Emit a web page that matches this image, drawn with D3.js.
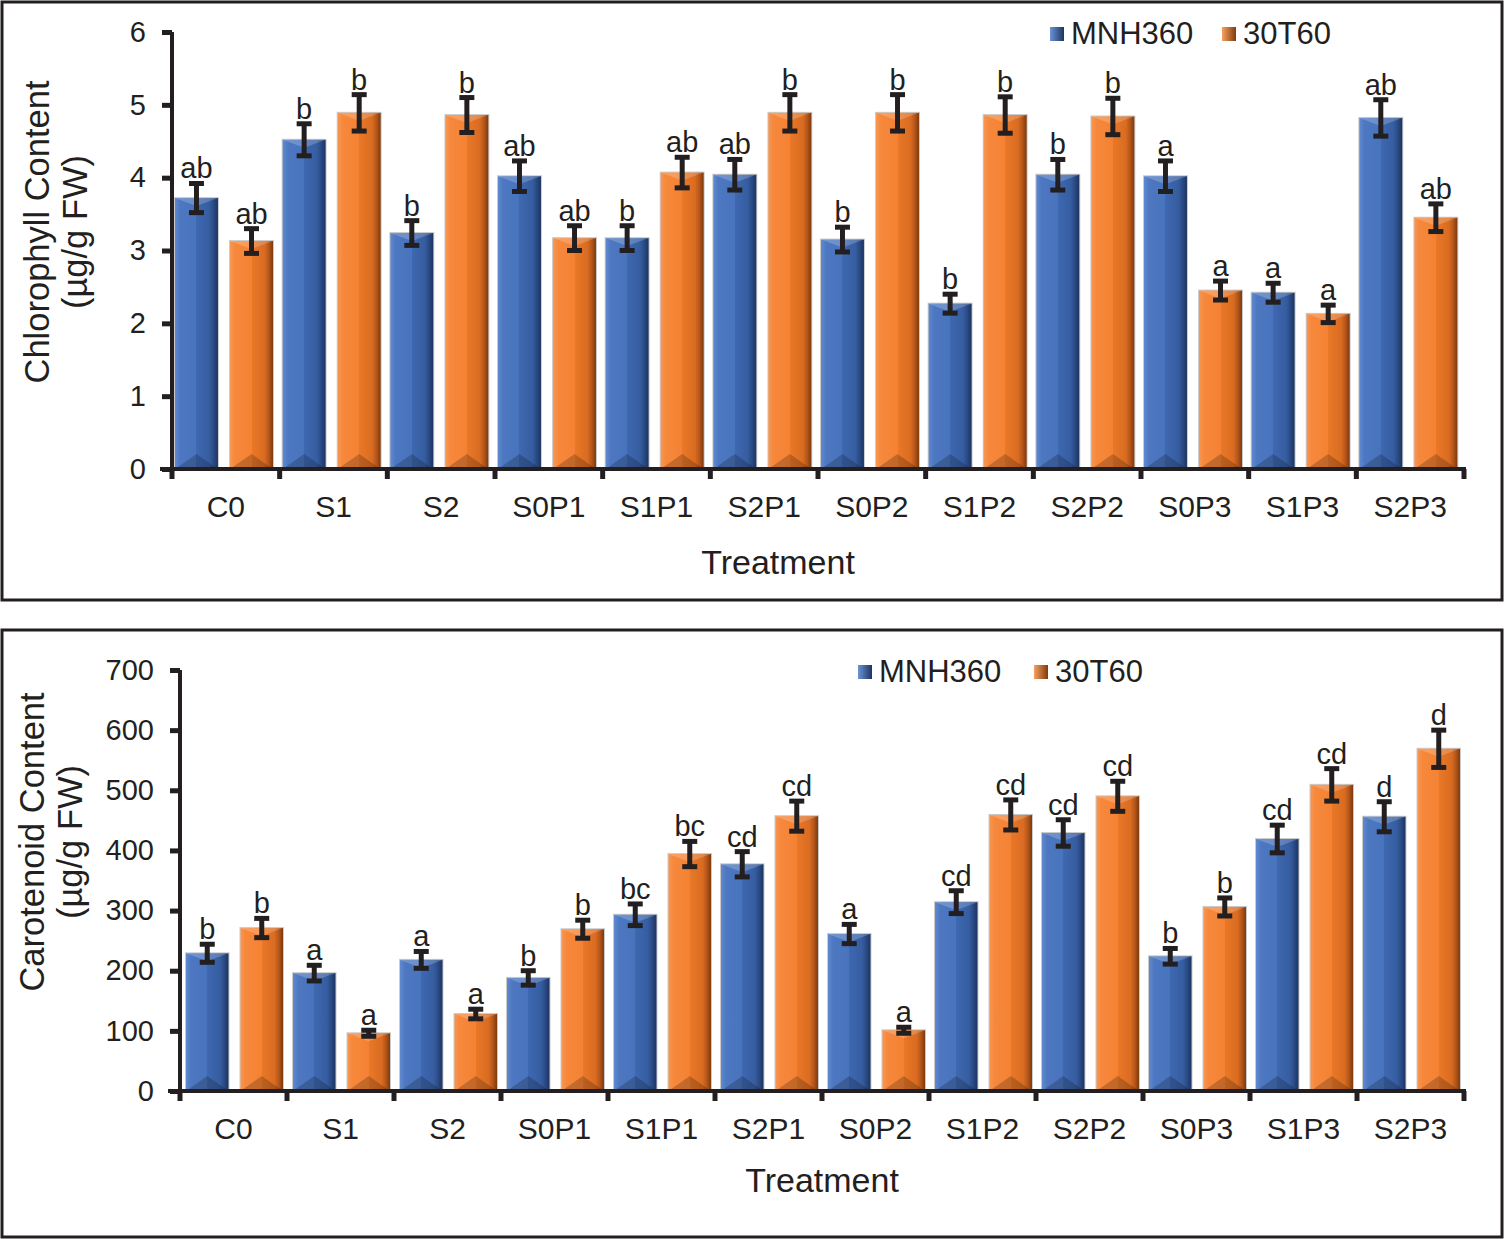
<!DOCTYPE html>
<html><head><meta charset="utf-8">
<script src="https://cdn.jsdelivr.net/npm/d3@7"></script>
<style>body{margin:0;background:#fff}svg{display:block}text{font-family:"Liberation Sans",Arial,sans-serif;fill:#231f20}</style>
</head><body><svg id="c" width="1504" height="1239"></svg>
<script>
const categories=["C0","S1","S2","S0P1","S1P1","S2P1","S0P2","S1P2","S2P2","S0P3","S1P3","S2P3"];
const seriesNames=["MNH360","30T60"];
// Chlorophyll
const chlMNH=[3.72,4.52,3.24,4.02,3.17,4.04,3.15,2.27,4.04,4.02,2.42,4.82];
const chl30T=[3.13,4.89,4.86,3.17,4.07,4.89,4.89,4.86,4.84,2.45,2.13,3.45];
const chlErrMNH=[0.2,0.22,0.17,0.21,0.17,0.21,0.17,0.13,0.21,0.21,0.13,0.25];
const chlErr30T=[0.17,0.25,0.24,0.17,0.21,0.25,0.25,0.25,0.25,0.13,0.12,0.19];
const chlLetMNH=["ab","b","b","ab","b","ab","b","b","b","a","a","ab"];
const chlLet30T=["ab","b","b","ab","ab","b","b","b","b","a","a","ab"];
const chlTicks=[0,1,2,3,4,5,6];
// Carotenoid
const carMNH=[229,196,218,188,293,377,261,314,429,224,419,456];
const car30T=[271,96,128,269,394,457,101,459,490,306,509,569];
const carErrMNH=[15,13,14,12,18,21,16,19,22,13,23,25];
const carErr30T=[16,5,8,15,21,25,5,25,25,15,27,31];
const carLetMNH=["b","a","a","b","bc","cd","a","cd","cd","b","cd","d"];
const carLet30T=["b","a","a","b","bc","cd","a","cd","cd","b","cd","d"];
const carTicks=[0,100,200,300,400,500,600,700];

const svg=d3.select("#c");
const ink="#231f20";
const FONT="Liberation Sans, Arial, sans-serif";
const defs=svg.append("defs");
function grad(id,stops,vert){const g=defs.append("linearGradient").attr("id",id).attr("x1","0").attr("x2",vert?"0":"1").attr("y1","0").attr("y2",vert?"1":"0");
 stops.forEach(s=>g.append("stop").attr("offset",s[0]).attr("stop-color",s[1]));}
grad("gB",[["0","#6089cf"],["0.12","#4d78c1"],["0.5","#4874bd"],["0.5","#3e68b1"],["0.8","#365da0"],["0.9","#2a4a84"],["1","#1c3460"]]);
grad("gO",[["0","#f99651"],["0.12","#f6883c"],["0.5","#f58233"],["0.5","#ea7828"],["0.8","#d96c21"],["0.9","#b6561a"],["1","#7c3a0e"]]);
grad("lB",[["0","#6c93d6"],["1","#1d3562"]]);
grad("lO",[["0","#f9a060"],["1","#7f3b0e"]]);

function bevelBar(g,x,y,w,h,fill){
  const gg=g.append("g");
  gg.append("rect").attr("x",x-1).attr("y",y-1).attr("width",w+2).attr("height",h+1).attr("fill","#a8a8a8").attr("opacity",0.6);
  gg.append("rect").attr("x",x).attr("y",y).attr("width",w).attr("height",h).attr("fill",fill);
  const dt=Math.min(8,h/3), db=Math.min(15,h/3);
  gg.append("path").attr("d",`M${x},${y}L${x+w},${y}L${x+w/2},${y+dt}Z`).attr("fill","#fff").attr("opacity",0.2);
  gg.append("path").attr("d",`M${x},${y+h}L${x+w},${y+h}L${x+w/2},${y+h-db}Z`).attr("fill","#000").attr("opacity",0.2);
}

function panel(o){
  const g=svg.append("g");
  g.append("rect").attr("x",o.box[0]).attr("y",o.box[1]).attr("width",o.box[2]).attr("height",o.box[3]).attr("fill","none").attr("stroke",ink).attr("stroke-width",3);
  const x=d3.scaleBand().domain(categories).range([o.x0,o.x1]).padding(0);
  const xi=d3.scaleBand().domain(seriesNames).range(o.inner).paddingInner(0.22);
  const y=d3.scaleLinear().domain([0,o.ymax]).range([o.y0,o.y1]);
  const data=[{v:o.a,e:o.ea,l:o.la,s:seriesNames[0],f:"url(#gB)"},{v:o.b,e:o.eb,l:o.lb,s:seriesNames[1],f:"url(#gO)"}];
  data.forEach(ser=>{
    categories.forEach((c,i)=>{
      const bx=x(c)+xi(ser.s), bw=xi.bandwidth(), top=y(ser.v[i]);
      bevelBar(g,bx,top,bw,y(0)-top,ser.f);
    });
  });
  data.forEach(ser=>{
    categories.forEach((c,i)=>{
      const cx=x(c)+xi(ser.s)+xi.bandwidth()/2;
      const hi=y(ser.v[i]+ser.e[i]), lo=y(ser.v[i]-ser.e[i]);
      g.append("line").attr("x1",cx).attr("x2",cx).attr("y1",hi).attr("y2",lo).attr("stroke",ink).attr("stroke-width",5);
      [hi,lo].forEach(yy=>g.append("line").attr("x1",cx-7.5).attr("x2",cx+7.5).attr("y1",yy).attr("y2",yy).attr("stroke",ink).attr("stroke-width",5));
      g.append("text").attr("x",cx).attr("y",hi-5).attr("text-anchor","middle").attr("font-size",29).text(ser.l[i]);
    });
  });
  const ya=g.append("g").attr("transform",`translate(${o.x0},0)`).call(d3.axisLeft(y).tickValues(o.ticks).tickFormat(d3.format("d")).tickSize(10).tickPadding(16).tickSizeOuter(0));
  ya.select(".domain").attr("stroke",ink).attr("stroke-width",4).attr("d",`M0,${o.y1}V${o.y0+2}`);
  ya.selectAll(".tick line").attr("stroke",ink).attr("stroke-width",5);
  ya.selectAll(".tick text").attr("font-size",29).attr("font-family",FONT).attr("fill",ink);
  const xa=g.append("g").attr("transform",`translate(0,${o.y0})`).call(d3.axisBottom(x).tickSize(0).tickPadding(27).tickSizeOuter(0));
  xa.select(".domain").attr("stroke",ink).attr("stroke-width",4).attr("d",`M${o.x0-12},0H${o.x1+2}`);
  xa.selectAll(".tick text").attr("font-size",30).attr("font-family",FONT).attr("fill",ink);
  const bounds=categories.map(c=>x(c)).concat([o.x1]);
  xa.selectAll("line.bt").data(bounds).enter().append("line").attr("class","bt").attr("x1",d=>d).attr("x2",d=>d).attr("y1",0).attr("y2",10).attr("stroke",ink).attr("stroke-width",5);
  g.append("text").attr("x",o.xtx).attr("y",o.y0+o.xtDy).attr("text-anchor","middle").attr("font-size",34).text("Treatment");
  const yt=g.append("text").attr("transform",`translate(${o.ytx},${o.yty}) rotate(-90)`).attr("text-anchor","middle").attr("font-size",34.5);
  yt.append("tspan").attr("x",0).attr("dy",0).text(o.ylab);
  yt.append("tspan").attr("x",0).attr("dy",38).text("(µg/g FW)");
  const lg=g.append("g").attr("transform",`translate(${o.leg[0]},${o.leg[1]})`);
  lg.append("rect").attr("x",0).attr("y",-17).attr("width",14).attr("height",14).attr("fill","url(#lB)");
  lg.append("text").attr("x",21).attr("y",0).attr("font-size",31).text(seriesNames[0]);
  lg.append("rect").attr("x",o.leg[2]).attr("y",-17).attr("width",14).attr("height",14).attr("fill","url(#lO)");
  lg.append("text").attr("x",o.leg[2]+21).attr("y",0).attr("font-size",31).text(seriesNames[1]);
}

panel({box:[2,2,1500,598],x0:172,x1:1464,inner:[3,101],y0:469,y1:32,ymax:6,ticks:chlTicks,
  a:chlMNH,b:chl30T,ea:chlErrMNH,eb:chlErr30T,la:chlLetMNH,lb:chlLet30T,
  xtx:778,xtDy:105,ytx:49,yty:232,ylab:"Chlorophyll Content",leg:[1050,44,172]});
panel({box:[2,630,1500,607],x0:180,x1:1464,inner:[6,103],y0:1091,y1:670,ymax:700,ticks:carTicks,
  a:carMNH,b:car30T,ea:carErrMNH,eb:carErr30T,la:carLetMNH,lb:carLet30T,
  xtx:822,xtDy:101,ytx:44,yty:842,ylab:"Carotenoid Content",leg:[858,682,176]});
</script></body></html>
